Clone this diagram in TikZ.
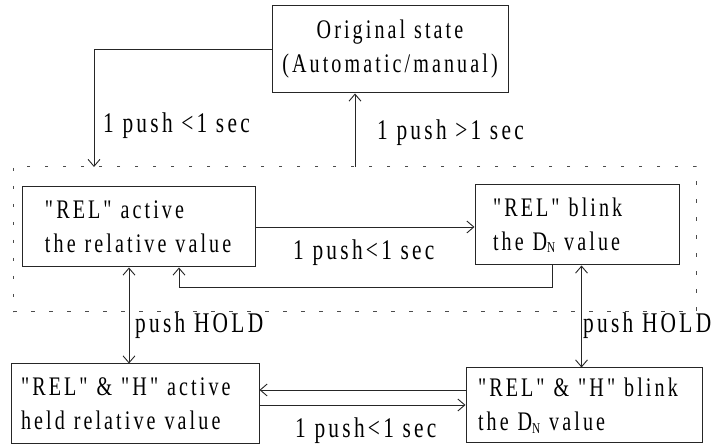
\documentclass[tikz,border=0pt]{standalone}
\usepackage{fontspec}
\newfontfamily\tfont{Liberation Serif}[FakeStretch=0.75,LetterSpace=11.5]
\usetikzlibrary{arrows.meta}
\newcommand\DN{D\raisebox{-2.5pt}{\fontsize{15}{15}\selectfont N}}
\tikzset{
  txt/.style={font=\tfont\fontsize{28.5}{34}\selectfont},
  boxtxt/.style={font=\tfont\fontsize{26.8}{34}\selectfont},
  box/.style={boxtxt, draw=black!85, line width=1pt, rectangle, inner ysep=0pt, align=left},
  lbl/.style={txt, inner sep=0pt, anchor=base west},
  arr/.style={draw=black!85, line width=0.9pt, -{Straight Barb[length=7pt,width=12pt]}},
  darr/.style={draw=black!85, line width=0.9pt, {Straight Barb[length=7pt,width=12pt]}-{Straight Barb[length=7pt,width=12pt]}},
  grpframe/.style={draw=black!70, line width=1pt, dash pattern=on 3.5pt off 14.5pt, inner sep=0pt, rectangle}
}
\begin{document}
\begin{tikzpicture}[x=1pt,y=-1pt]
\useasboundingbox (0,0) rectangle (716,446);
% group frame
\node[grpframe, minimum width=683pt, minimum height=145pt] (grp) at (354.5,239.5) {};
% boxes
\node[box, align=center, text width=230pt, inner xsep=3pt, minimum height=87pt] (orig) at (390,49.5)
  {\mbox{Original state}\\\mbox{(Automatic/manual)}};
\node[box, text width=187pt, inner xsep=23pt, minimum height=80pt] (relact) at (138.5,227)
  {\mbox{"REL" active}\\\mbox{the relative value}};
\node[box, text width=168pt, inner xsep=18pt, minimum height=80pt] (blink) at (577,225)
  {\mbox{"REL" blink}\\\mbox{the \DN\ value}};
\node[box, text width=228pt, inner xsep=10pt, minimum height=80pt] (hla) at (135,404)
  {\mbox{"REL" \& "H" active}\\\mbox{held relative value}};
\node[box, text width=212pt, inner xsep=12pt, minimum height=75pt] (hbl) at (584,405.5)
  {\mbox{"REL" \& "H" blink}\\\mbox{the \DN\ value}};
% free ends on the frame
\coordinate (c1) at (94,167);
\coordinate (c2) at (355,167);
% connectors
\draw[arr] (orig.west) -| (c1);
\draw[arr] (c2) -- (c2 |- orig.south);
\draw[arr] (relact.east) -- (relact.east -| blink.west);
\draw[arr] ([xshift=-25pt]blink.south) -- ++(0,22) -| ([xshift=40.5pt]relact.south);
\draw[darr] ([xshift=-9.5pt]relact.south) -- ([xshift=-9.5pt]relact.south |- hla.north);
\draw[darr] ([xshift=4.5pt]blink.south) -- ([xshift=4.5pt]blink.south |- hbl.north);
\draw[arr] ([yshift=15.5pt]hbl.west) -- ([yshift=15.5pt]hbl.west -| hla.east);
\draw[arr] ([yshift=-1pt]hla.east) -- ([yshift=-1pt]hla.east -| hbl.west);
% labels
\node[lbl] (l1) at (103,133) {1 push <1 sec};
\node[lbl] (l2) at (377,140) {1 push >1 sec};
\node[lbl] (l3) at (293,260) {1 push<1 sec};
\node[lbl] (l4) at (135,333) {push HOLD};
\node[lbl] (l5) at (583,333) {push HOLD};
\node[lbl] (l6) at (295,438) {1 push<1 sec};
\end{tikzpicture}
\end{document}
